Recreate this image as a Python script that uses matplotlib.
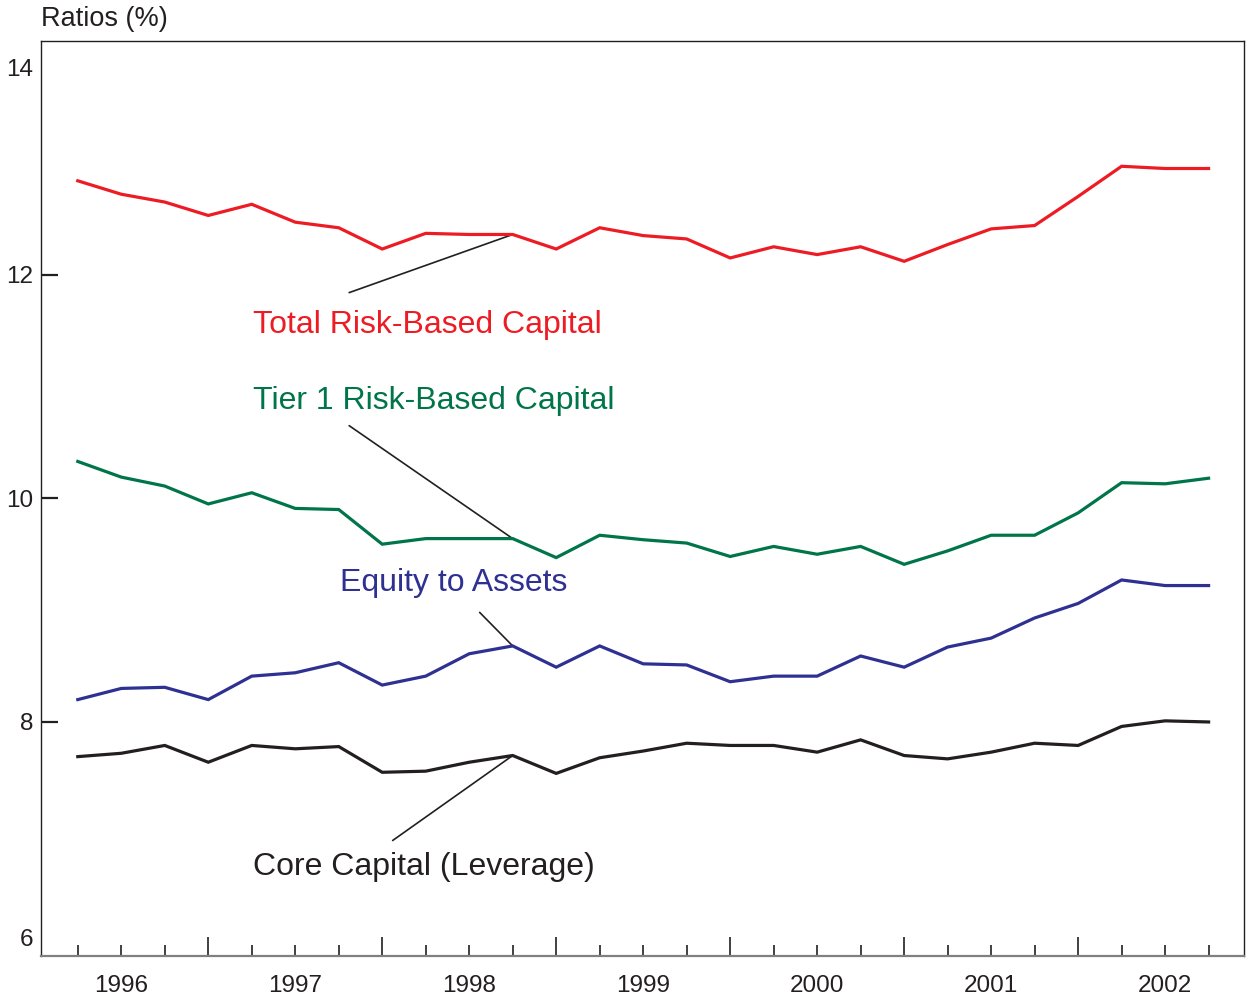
import matplotlib

matplotlib.use("Agg")

import matplotlib.pyplot as plt
from matplotlib.transforms import ScaledTranslation
import numpy as np

plt.rcParams["font.family"] = ["Liberation Sans", "DejaVu Sans"]

# quarter-end dates, 1996Q1 .. 2002Q3
QUARTERS = [y + q / 4 for y in range(1996, 2003) for q in (1, 2, 3, 4)][:27]

TOTAL_RBC = [12.84, 12.72, 12.65, 12.53, 12.63, 12.47, 12.42, 12.23, 12.37, 12.36,
             12.36, 12.23, 12.42, 12.35, 12.32, 12.15, 12.25, 12.18, 12.25, 12.12,
             12.27, 12.41, 12.44, 12.70, 12.97, 12.95, 12.95]
TIER1_RBC = [10.33, 10.19, 10.11, 9.95, 10.05, 9.91, 9.90, 9.59, 9.64, 9.64,
             9.64, 9.47, 9.67, 9.63, 9.60, 9.48, 9.57, 9.50, 9.57, 9.41,
             9.53, 9.67, 9.67, 9.87, 10.14, 10.13, 10.18]
EQUITY_ASSETS = [8.20, 8.30, 8.31, 8.20, 8.41, 8.44, 8.53, 8.33, 8.41, 8.61,
                 8.68, 8.49, 8.68, 8.52, 8.51, 8.36, 8.41, 8.41, 8.59, 8.49,
                 8.67, 8.75, 8.93, 9.06, 9.27, 9.22, 9.22]
CORE_CAPITAL = [7.69, 7.72, 7.79, 7.64, 7.79, 7.76, 7.78, 7.55, 7.56, 7.64,
                7.70, 7.54, 7.68, 7.74, 7.81, 7.79, 7.79, 7.73, 7.84, 7.70,
                7.67, 7.73, 7.81, 7.79, 7.96, 8.01, 8.00]

YEARS = [1996, 1997, 1998, 1999, 2000, 2001, 2002]
Y_TICKS = [6, 8, 10, 12, 14]

RED = "#ED1C24"
GREEN = "#00754A"
BLUE = "#2E3192"
BLACK = "#231F20"


def main():
    fig = plt.figure(figsize=(12.46, 10.01), dpi=100)
    ax = fig.add_axes([0.0331, 0.0453, 0.9655, 0.9137])
    x = np.array(QUARTERS)

    series = [
        (TOTAL_RBC, RED, "Total Risk-Based Capital", (1997.257, 11.553), (1997.81, 11.84)),
        (TIER1_RBC, GREEN, "Tier 1 Risk-Based Capital", (1997.257, 10.873), (1997.81, 10.65)),
        (EQUITY_ASSETS, BLUE, "Equity to Assets", (1997.757, 9.243), (1998.56, 8.98)),
        (CORE_CAPITAL, BLACK, "Core Capital (Leverage)", (1997.257, 6.703), (1998.06, 6.94)),
    ]
    for values, color, label, text_pos, lead_pos in series:
        ax.plot(x, values, color=color, linewidth=2.3, solid_joinstyle="miter", zorder=3)
        ax.text(text_pos[0], text_pos[1], label, color=color, fontsize=23,
                ha="left", va="center")
        ax.annotate("", xy=(x[10], values[10]), xytext=lead_pos,
                    arrowprops=dict(arrowstyle="-", color=BLACK, linewidth=1.2,
                                    shrinkA=0, shrinkB=0), zorder=2)

    ax.set_xlim(1996.04, 2002.955)
    ax.set_ylim(5.91, 14.09)

    # y axis
    ax.set_yticks(Y_TICKS)
    ax.tick_params(axis="y", direction="in", length=12.5, width=1.6, color=BLACK,
                   labelsize=17.5, labelcolor=BLACK, pad=6)
    yticks = ax.yaxis.get_major_ticks()
    for idx in (0, -1):
        yticks[idx].tick1line.set_visible(False)
    labels = ax.get_yticklabels()
    labels[0].set_transform(labels[0].get_transform() + ScaledTranslation(0, 6 / 72, fig.dpi_scale_trans))
    labels[-1].set_transform(labels[-1].get_transform() + ScaledTranslation(0, -12 / 72, fig.dpi_scale_trans))

    # x axis: labels mid-year, short ticks at quarter ends, long ticks at year ends
    ax.xaxis.remove_overlapping_locs = False
    ax.set_xticks([yr + 0.5 for yr in YEARS], labels=[str(yr) for yr in YEARS])
    ax.tick_params(axis="x", which="major", length=0, labelsize=17.5, labelcolor=BLACK, pad=14)
    quarter_ticks = [q for q in QUARTERS if q % 1 != 0]
    ax.set_xticks(quarter_ticks, minor=True)
    ax.tick_params(axis="x", which="minor", direction="in", length=7.7, width=1.2, color=BLACK)
    sec = ax.secondary_xaxis("bottom")
    sec.set_xticks([float(yr) for yr in YEARS[1:]])
    sec.tick_params(direction="in", length=13.5, width=1.2, color=BLACK, labelbottom=False)
    sec.spines["bottom"].set_visible(False)

    for side in ("left", "top", "right"):
        ax.spines[side].set_color(BLACK)
        ax.spines[side].set_linewidth(1.0)
    ax.spines["bottom"].set_color("#808080")
    ax.spines["bottom"].set_linewidth(1.6)

    fig.text(0.033, 1 - 19 / 1001, "Ratios (%)", fontsize=19.5, color=BLACK,
             ha="left", va="center")

    fig.savefig("out.png", dpi=100)
    plt.close(fig)


if __name__ == "__main__":
    main()
